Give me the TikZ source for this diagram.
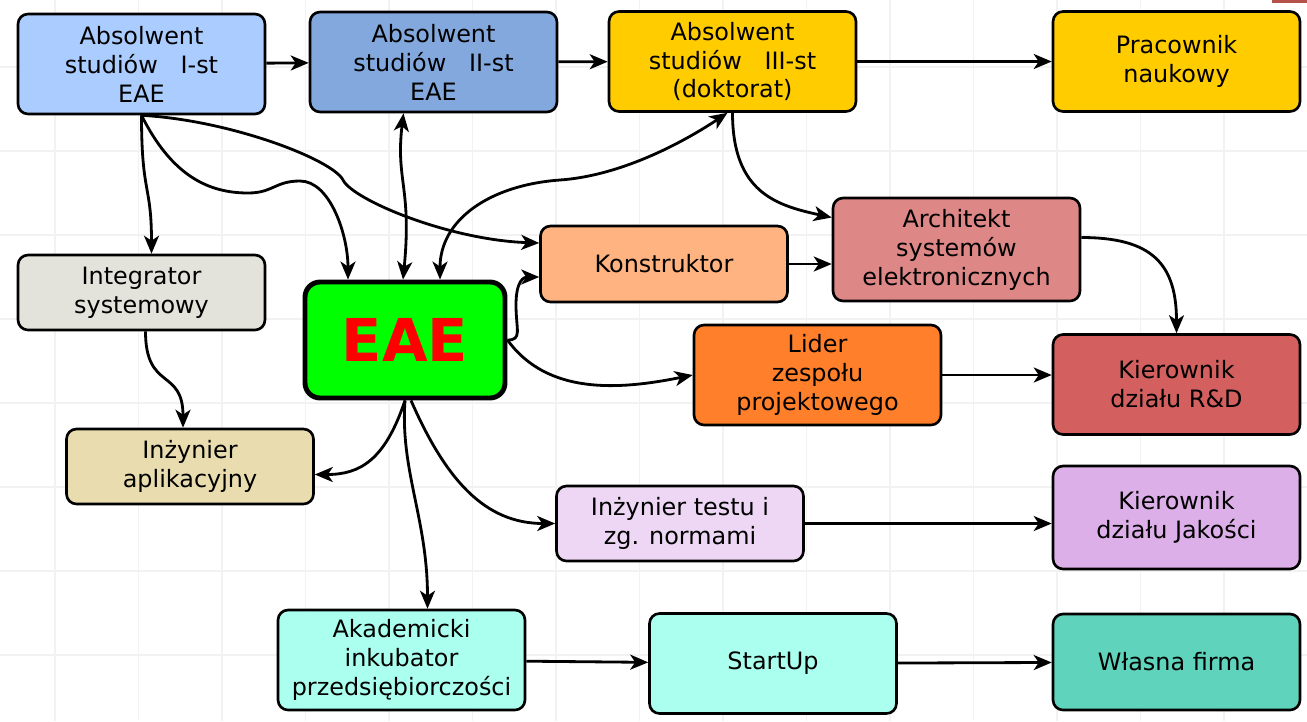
\documentclass[tikz,border=0pt]{standalone}
\usepackage{fontspec}
\setmainfont{DejaVu Sans}
\usepackage{xcolor}
\usetikzlibrary{arrows.meta,calc}

\definecolor{absI}{HTML}{AACCFF}
\definecolor{absII}{HTML}{82A8DE}
\definecolor{gold}{HTML}{FFCC00}
\definecolor{integr}{HTML}{E3E2DB}
\definecolor{konstr}{HTML}{FFB380}
\definecolor{archit}{HTML}{DE8787}
\definecolor{liderc}{HTML}{FF7F2A}
\definecolor{kierrd}{HTML}{D35F5F}
\definecolor{aplik}{HTML}{E9DDAF}
\definecolor{testu}{HTML}{EED7F4}
\definecolor{jakosc}{HTML}{DDAFE9}
\definecolor{mint}{HTML}{AAFFEE}
\definecolor{firmac}{HTML}{5FD3BC}
\definecolor{redmark}{HTML}{B5504A}

\begin{document}
\begin{tikzpicture}[x=0.02cm, y=-0.02cm,
  box/.style={rectangle, rounded corners=0.2cm, draw=black, line width=1.5pt, align=center, minimum width=4.94cm, minimum height=2cm, inner sep=0pt, font=\fontsize{13.6}{16.5}\selectfont},
  arr/.style={-{Stealth[length=0.36cm,width=0.3cm,inset=0.1cm]}, line width=1.6pt},
  arrs/.style={{Stealth[length=0.36cm,width=0.3cm,inset=0.1cm]}-{Stealth[length=0.36cm,width=0.3cm,inset=0.1cm]}, line width=1.6pt},
  gridline/.style={black!5, line width=0.6pt}]

\fill[white] (0,0) rectangle (1307,721);
\useasboundingbox (0,0) rectangle (1307,721);

% background grid
\foreach \gx in {55,138.5,...,1307} \draw[gridline] (\gx,0) -- (\gx,721);
\foreach \gy in {67,151,...,721} \draw[gridline] (0,\gy) -- (1307,\gy);
\fill[redmark] (1272,0) rectangle (1307,3);

\node[box, fill=absI] (abs1) at (141.5, 64) {Absolwent\\studiów~~~I-st\\EAE};
\node[box, fill=absII] (abs2) at (433.5, 62) {Absolwent\\studiów~~~II-st\\EAE};
\node[box, fill=gold] (abs3) at (732.5, 61.5) {Absolwent\\studiów~~~III-st\\(doktorat)};
\node[box, fill=gold] (prac) at (1176.5, 61.5) {Pracownik\\naukowy};
\node[box, fill=integr, minimum height=1.5cm] (integ) at (141.5, 292.5) {Integrator\\systemowy};
\node[box, fill=green, minimum width=4cm, minimum height=2.32cm, line width=2.8pt, rounded corners=0.3cm, text=red, font=\fontsize{33.6}{40}\selectfont\bfseries] (EAE) at (405, 340) {EAE};
\node[box, fill=konstr, minimum height=1.52cm] (konst) at (664, 264) {Konstruktor};
\node[box, fill=archit, minimum height=2.06cm] (arch) at (956.5, 249.5) {Architekt\\systemów\\elektronicznych};
\node[box, fill=liderc] (lider) at (817.5, 375) {Lider\\zespołu\\projektowego};
\node[box, fill=kierrd] (kierRD) at (1176.5, 384.5) {Kierownik\\działu R\&D};
\node[box, fill=aplik, minimum height=1.5cm] (inzap) at (190, 466.5) {Inżynier\\aplikacyjny};
\node[box, fill=testu, minimum height=1.5cm] (inztest) at (680, 523.5) {Inżynier testu i\\zg. normami};
\node[box, fill=jakosc, minimum height=2.06cm] (kierJ) at (1176.5, 517.5) {Kierownik\\działu Jakości};
\node[box, fill=mint] (akad) at (401.5, 660) {Akademicki\\inkubator\\przedsiębiorczości};
\node[box, fill=mint] (start) at (773, 663.5) {StartUp};
\node[box, fill=firmac, minimum height=1.92cm] (firma) at (1176.5, 662) {Własna firma};

% top row
\draw[arr] (abs1) -- (abs2);
\draw[arr] (abs2) -- (abs3);
\draw[arr] (abs3) -- (prac);

% from I-st
\draw[arr] (abs1.south) .. controls +(0,80) and +(0,-70) .. ($(integ.north)+(10,0)$);
\draw[arr] (abs1.south) .. controls +(30,60) and +(-40,0) .. (248,193) .. controls +(25,0) and +(-25,0) .. (300,181) .. controls +(30,0) and +(0,-45) .. ($(EAE.north)+(-57,0)$);
\draw[arr] (abs1.south) .. controls +(90,5) and +(-10,-20) .. (343,180) .. controls +(10,20) and +(-90,-3) .. ($(konst.west)+(0,-21)$);

% EAE <-> II-st, III-st
\draw[arrs] ($(abs2.south)+(-30,0)$) .. controls +(-8,67) and +(9,-92) .. ($(EAE.north)+(-2,0)$);
\draw[arrs] ($(EAE.north)+(35,0)$) .. controls +(0,-60) and +(-70,5) .. (560,180) .. controls +(70,-5) and +(-30,20) .. ($(abs3.south)+(-5,0)$);
\draw[arr] (abs3.south) .. controls +(0,80) and +(-55,-12) .. ($(arch.west)+(0,-32)$);

% middle
\draw[arr] (konst.east) -- (konst.east -| arch.west);
\draw[arr] (EAE.east) .. controls +(15,0) and +(0,25) .. (516,305) .. controls +(0,-25) and +(-15,0) .. ($(konst.west)+(0,13)$);
\draw[arr] (EAE.east) .. controls +(40,55) and +(-74,15) .. (lider.west);
\draw[arr] ($(arch.east)+(0,-12)$) .. controls +(70,0) and +(0,-70) .. (kierRD.north);
\draw[arr] (lider.east) -- (lider.east -| kierRD.west);
\draw[arr] ($(integ.south)+(4,0)$) .. controls +(0,60) and +(0,-60) .. ($(inzap.north)+(-7,0)$);

% from EAE down
\draw[arr] (EAE.south) .. controls +(-20,60) and +(45,0) .. ($(inzap.east)+(0,8)$);
\draw[arr] (EAE.south) .. controls +(-5,70) and +(0,-90) .. ($(akad.north)+(26,0)$);
\draw[arr] ($(EAE.south)+(6,0)$) .. controls +(35,80) and +(-70,0) .. (inztest.west);
\draw[arr] (inztest.east) -- (inztest.east -| kierJ.west);

% bottom row
\draw[arr] (akad) -- (start);
\draw[arr] (start) -- (firma);

\end{tikzpicture}
\end{document}
